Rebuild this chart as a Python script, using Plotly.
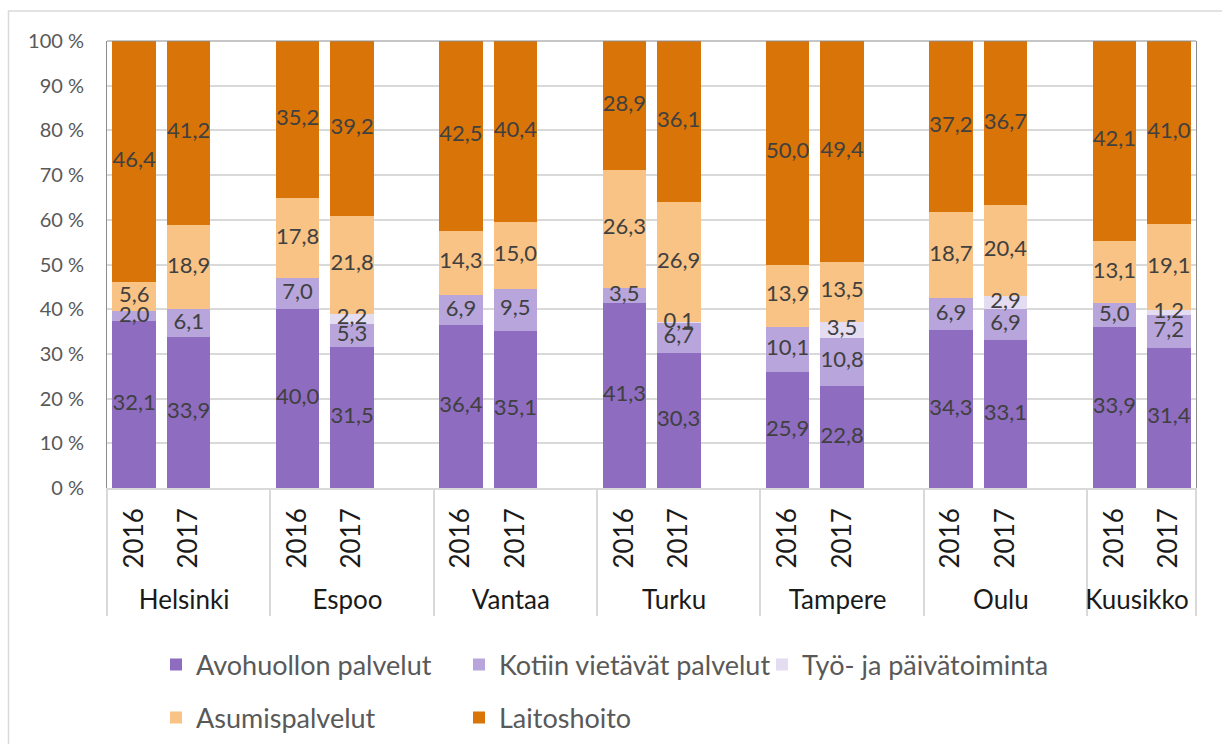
import plotly.graph_objects as go

cities = ["Helsinki", "Espoo", "Vantaa", "Turku", "Tampere", "Oulu", "Kuusikko"]
years = ["2016", "2017"]

series_names = ["Avohuollon palvelut", "Kotiin vietävät palvelut", "Työ- ja päivätoiminta",
                "Asumispalvelut", "Laitoshoito"]
# values per (city, year) in order Helsinki 2016, Helsinki 2017, Espoo 2016, ...
avohuolto = [32.1, 33.9, 40.0, 31.5, 36.4, 35.1, 41.3, 30.3, 25.9, 22.8, 34.3, 33.1, 33.9, 31.4]
kotiin = [2.0, 6.1, 7.0, 5.3, 6.9, 9.5, 3.5, 6.7, 10.1, 10.8, 6.9, 6.9, 5.0, 7.2]
tyo = [None, None, None, 2.2, None, None, None, 0.1, None, 3.5, None, 2.9, None, 1.2]
asumis = [5.6, 18.9, 17.8, 21.8, 14.3, 15.0, 26.3, 26.9, 13.9, 13.5, 18.7, 20.4, 13.1, 19.1]
laitos = [46.4, 41.2, 35.2, 39.2, 42.5, 40.4, 28.9, 36.1, 50.0, 49.4, 37.2, 36.7, 42.1, 41.0]

y_tick_vals = [0, 10, 20, 30, 40, 50, 60, 70, 80, 90, 100]
y_tick_text = ["0 %", "10 %", "20 %", "30 %", "40 %", "50 %", "60 %", "70 %", "80 %", "90 %", "100 %"]

colors = ["#8e6cc0", "#b8a5db", "#e4dcf1", "#f8c384", "#d97408"]

FONT = "Lato, 'Open Sans', sans-serif"

# build multicategory axis with an empty slot after each city (except the last)
outer, inner, idx = [], [], []
k = 0
for ci, city in enumerate(cities):
    for yr in years:
        outer.append(city)
        inner.append(yr)
        idx.append(k)
        k += 1
    if ci < len(cities) - 1:
        outer.append(city)
        inner.append(" ")
        idx.append(None)


def expand(vals):
    return [None if i is None else vals[i] for i in idx]


def fmt(v):
    return f"{v:.1f}".replace(".", ",")


all_series = [avohuolto, kotiin, tyo, asumis, laitos]

fig = go.Figure()
for si, (name, vals, col) in enumerate(zip(series_names, all_series, colors)):
    fig.add_trace(go.Bar(
        x=[outer, inner],
        y=expand(vals),
        name=name,
        marker=dict(color=col, line=dict(width=0)),
        legend="legend" if si < 3 else "legend2",
        hoverinfo="skip",
    ))

# data labels drawn on top of all bars, at the centre of each (100 %-normalised) segment
lab_outer, lab_inner, lab_y, lab_text = [], [], [], []
for j in range(len(avohuolto)):
    total = sum(s[j] for s in all_series if s[j] is not None)
    cum = 0.0
    for s in all_series:
        v = s[j]
        if v is None:
            continue
        lab_outer.append(cities[j // 2])
        lab_inner.append(years[j % 2])
        lab_y.append((cum + v / 2) / total * 100)
        lab_text.append(fmt(v))
        cum += v

fig.add_trace(go.Scatter(
    x=[lab_outer, lab_inner], y=lab_y, text=lab_text,
    mode="text", textposition="middle center",
    textfont=dict(family=FONT, size=22, color="#404040"),
    showlegend=False, hoverinfo="skip", cliponaxis=False,
))

W, H = 1222, 744
L, R, T, B = 106.6, 25.5, 41, 256
pw = W - L - R
ph = H - T - B


def px(x):
    return (x - L) / pw


def py(y):
    return (H - B - y) / ph


leg_common = dict(orientation="h", xref="container", yref="container",
                  x=156 / W, xanchor="left", yanchor="middle",
                  entrywidth=258, entrywidthmode="pixels",
                  font=dict(family=FONT, size=27, color="#595959"),
                  bgcolor="rgba(0,0,0,0)", traceorder="normal")

fig.update_layout(
    width=W, height=H,
    template=None,
    barmode="stack",
    barnorm="percent",
    bargap=0.2,
    paper_bgcolor="white",
    plot_bgcolor="white",
    margin=dict(l=L, r=R, t=T, b=B, autoexpand=False),
    font=dict(family=FONT, color="#595959"),
    legend=dict(leg_common, y=1 - 665 / H),
    legend2=dict(leg_common, y=1 - 718 / H),
    xaxis=dict(
        type="multicategory",
        range=[-0.5, len(outer) - 0.5],
        showline=True, linecolor="#d9d9d9", linewidth=1.5,
        showgrid=False, zeroline=False,
        tickangle=-90,
        tickfont=dict(family=FONT, size=26, color="#1a1a1a"),
        showdividers=True, dividercolor="#d9d9d9", dividerwidth=1.5,
        ticks="", automargin=False,
        ticklabelstandoff=8,
    ),
    yaxis=dict(
        range=[0, 100],
        tickvals=y_tick_vals, ticktext=y_tick_text,
        showgrid=True, gridcolor="#d9d9d9", gridwidth=1.5,
        showline=True, linecolor="#8c8c8c", linewidth=1, mirror=True,
        zeroline=False, ticks="",
        ticklabelstandoff=18,
        tickfont=dict(family=FONT, size=20, color="#595959"),
        automargin=False,
    ),
    showlegend=True,
)

# plot area top border and the chart's outer border
fig.add_shape(type="line", xref="x domain", yref="y domain", x0=0, x1=1, y0=1, y1=1,
              line=dict(color="#8c8c8c", width=1))
fig.add_shape(type="rect", xref="paper", yref="paper",
              x0=px(8), x1=px(1240), y0=py(760), y1=py(11),
              line=dict(color="#d9d9d9", width=1.5), fillcolor="rgba(0,0,0,0)", layer="below")

fig.write_html("out.html", config={"displayModeBar": False},
               post_script="document.body.style.margin='0px';")
